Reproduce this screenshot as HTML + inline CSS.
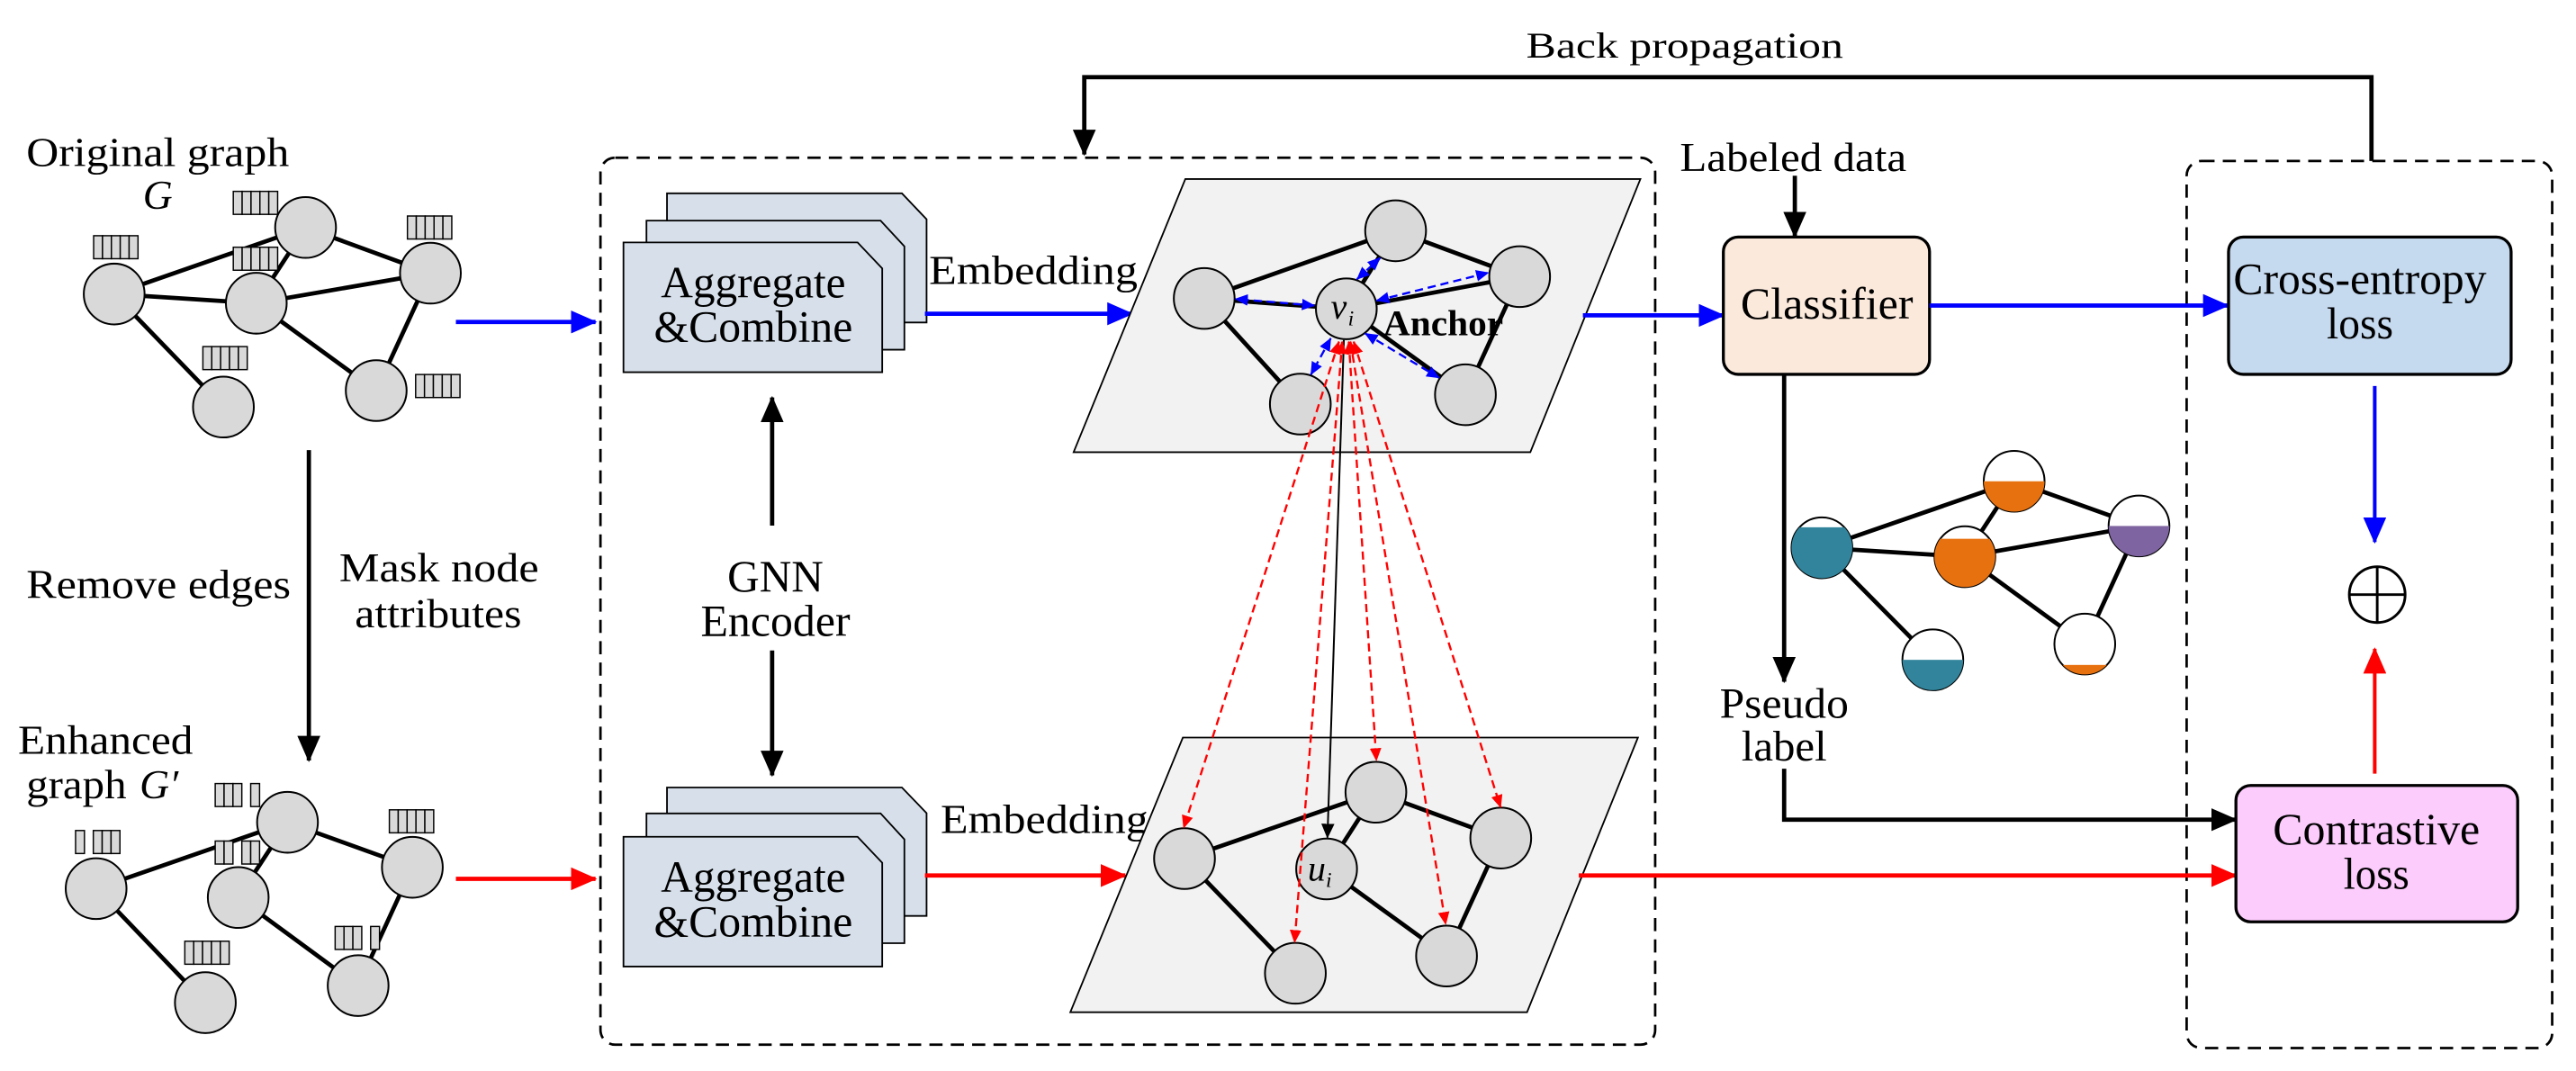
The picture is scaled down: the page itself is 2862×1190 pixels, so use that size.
<!DOCTYPE html>
<html><head><meta charset="utf-8"><style>html,body{margin:0;padding:0;background:#fff}svg{display:block}text{font-family:"Liberation Serif","DejaVu Serif",serif;fill:#000}</style></head>
<body>
<svg width="2862" height="1190" viewBox="0 0 1568 652" preserveAspectRatio="none" xmlns="http://www.w3.org/2000/svg" font-family="Liberation Serif, DejaVu Serif, serif">
<defs>
<rect id="c" width="5.4" height="14" fill="#d9d9d9" stroke="#000" stroke-width="0.8"/>
<g id="fb"><use href="#c" x="0"/><use href="#c" x="5.4"/><use href="#c" x="10.8"/><use href="#c" x="16.2"/><use href="#c" x="21.6"/></g>
<marker id="ab" markerUnits="userSpaceOnUse" markerWidth="16" markerHeight="14" refX="15" refY="7" orient="auto"><path d="M0,0 L16,7 L0,14 z" fill="#0000ff"/></marker>
<marker id="ar" markerUnits="userSpaceOnUse" markerWidth="16" markerHeight="14" refX="15" refY="7" orient="auto"><path d="M0,0 L16,7 L0,14 z" fill="#ff0000"/></marker>
<marker id="ak" markerUnits="userSpaceOnUse" markerWidth="16" markerHeight="14" refX="15" refY="7" orient="auto"><path d="M0,0 L16,7 L0,14 z" fill="#000"/></marker>
<marker id="sb" markerUnits="userSpaceOnUse" markerWidth="8" markerHeight="7" refX="7.5" refY="3.5" orient="auto"><path d="M0,0 L8,3.5 L0,7 z" fill="#0000ff"/></marker>
<marker id="sbs" markerUnits="userSpaceOnUse" markerWidth="8" markerHeight="7" refX="0.5" refY="3.5" orient="auto"><path d="M8,0 L0,3.5 L8,7 z" fill="#0000ff"/></marker>
<marker id="sr" markerUnits="userSpaceOnUse" markerWidth="8" markerHeight="7" refX="7.5" refY="3.5" orient="auto"><path d="M0,0 L8,3.5 L0,7 z" fill="#ff0000"/></marker>
<marker id="srs" markerUnits="userSpaceOnUse" markerWidth="8" markerHeight="7" refX="0.5" refY="3.5" orient="auto"><path d="M8,0 L0,3.5 L8,7 z" fill="#ff0000"/></marker>
<marker id="sk" markerUnits="userSpaceOnUse" markerWidth="9" markerHeight="8" refX="8.5" refY="4" orient="auto"><path d="M0,0 L9,4 L0,8 z" fill="#000"/></marker>
</defs>

<!-- Back propagation -->
<text x="929" y="35" font-size="22" textLength="193" lengthAdjust="spacingAndGlyphs">Back propagation</text>
<polyline points="1443.5,98 1443.5,47 660,47 660,94" fill="none" stroke="#000" stroke-width="2.6" marker-end="url(#ak)"/>

<!-- dashed boxes -->
<rect x="365.5" y="96" width="642" height="540" rx="9" fill="none" stroke="#000" stroke-width="1.5" stroke-dasharray="8,5"/>
<rect x="1331" y="98" width="222.5" height="540" rx="9" fill="none" stroke="#000" stroke-width="1.5" stroke-dasharray="8,5"/>

<!-- Left original graph -->
<text x="16" y="101" font-size="25" textLength="160" lengthAdjust="spacingAndGlyphs">Original graph</text>
<text x="87" y="127" font-size="25" font-style="italic">G</text>
<g stroke="#000" stroke-width="2.6">
<line x1="69.5" y1="179" x2="186" y2="138.5"/><line x1="69.5" y1="179" x2="156" y2="184.6"/>
<line x1="186" y1="138.5" x2="156" y2="184.6"/><line x1="186" y1="138.5" x2="262" y2="166.3"/>
<line x1="156" y1="184.6" x2="262" y2="166.3"/><line x1="69.5" y1="179" x2="136" y2="247.8"/>
<line x1="156" y1="184.6" x2="229" y2="237.8"/><line x1="262" y1="166.3" x2="229" y2="237.8"/>
</g>
<g fill="#d9d9d9" stroke="#000" stroke-width="1.1">
<circle cx="69.5" cy="179" r="18.5"/><circle cx="186" cy="138.5" r="18.5"/><circle cx="156" cy="184.6" r="18.5"/>
<circle cx="262" cy="166.3" r="18.5"/><circle cx="136" cy="247.8" r="18.5"/><circle cx="229" cy="237.8" r="18.5"/>
</g>
<use href="#fb" x="57" y="143.5"/><use href="#fb" x="142" y="116.5"/><use href="#fb" x="142" y="150.5"/>
<use href="#fb" x="248" y="131.5"/><use href="#fb" x="123.5" y="211"/><use href="#fb" x="253" y="228"/>
<line x1="277.5" y1="196" x2="362.5" y2="196" stroke="#0000ff" stroke-width="2.6" marker-end="url(#ab)"/>

<!-- down arrow & labels -->
<line x1="188" y1="274" x2="188" y2="463" stroke="#000" stroke-width="2.6" marker-end="url(#ak)"/>
<text x="16" y="364" font-size="25" textLength="161" lengthAdjust="spacingAndGlyphs">Remove edges</text>
<text x="206.5" y="354" font-size="25" textLength="121.5" lengthAdjust="spacingAndGlyphs">Mask node</text>
<text x="216" y="382" font-size="25" textLength="101.5" lengthAdjust="spacingAndGlyphs">attributes</text>

<!-- Enhanced graph -->
<text x="11" y="459" font-size="25" textLength="106.5" lengthAdjust="spacingAndGlyphs">Enhanced</text>
<text x="16" y="486" font-size="25" textLength="61" lengthAdjust="spacingAndGlyphs">graph</text>
<text x="85" y="486" font-size="25" font-style="italic">G′</text>
<g stroke="#000" stroke-width="2.6">
<line x1="58.5" y1="541" x2="175" y2="500.6"/><line x1="58.5" y1="541" x2="125" y2="610.4"/>
<line x1="175" y1="500.6" x2="145" y2="546.4"/><line x1="175" y1="500.6" x2="251" y2="528"/>
<line x1="145" y1="546.4" x2="218" y2="600"/><line x1="251" y1="528" x2="218" y2="600"/>
</g>
<g fill="#d9d9d9" stroke="#000" stroke-width="1.1">
<circle cx="58.5" cy="541" r="18.5"/><circle cx="175" cy="500.6" r="18.5"/><circle cx="145" cy="546.4" r="18.5"/>
<circle cx="251" cy="528" r="18.5"/><circle cx="125" cy="610.4" r="18.5"/><circle cx="218" cy="600" r="18.5"/>
</g>
<g transform="translate(46,505.6)"><use href="#c" x="0"/><use href="#c" x="10.8"/><use href="#c" x="16.2"/><use href="#c" x="21.6"/></g>
<g transform="translate(131,477)"><use href="#c" x="0"/><use href="#c" x="5.4"/><use href="#c" x="10.8"/><use href="#c" x="21.6"/></g>
<g transform="translate(131,512)"><use href="#c" x="0"/><use href="#c" x="5.4"/><use href="#c" x="16.2"/><use href="#c" x="21.6"/></g>
<use href="#fb" x="237" y="493"/><use href="#fb" x="112.5" y="573"/>
<g transform="translate(204,564)"><use href="#c" x="0"/><use href="#c" x="5.4"/><use href="#c" x="10.8"/><use href="#c" x="21.6"/></g>
<line x1="277.5" y1="535" x2="362.5" y2="535" stroke="#ff0000" stroke-width="2.6" marker-end="url(#ar)"/>

<!-- Aggregate boxes -->
<g fill="#d6dfea" stroke="#000" stroke-width="1">
<path d="M406,117.7 H549 L564,133.5 V196.3 H406 Z"/>
<path d="M393.5,134.3 H536 L550.5,150 V212.9 H393.5 Z"/>
<path d="M379.5,147.6 H522 L537,163.4 V226.6 H379.5 Z"/>
<path d="M406,479.4 H549 L564,495 V557.6 H406 Z"/>
<path d="M393.5,495.2 H536 L550.5,511 V574.2 H393.5 Z"/>
<path d="M379.5,509.4 H522 L537,525.2 V588.4 H379.5 Z"/>
</g>
<g font-size="27" text-anchor="middle" lengthAdjust="spacingAndGlyphs">
<text x="458.5" y="181" textLength="112.5" lengthAdjust="spacingAndGlyphs">Aggregate</text><text x="458.5" y="208" textLength="121" lengthAdjust="spacingAndGlyphs">&amp;Combine</text>
<text x="458.5" y="543" textLength="112.5" lengthAdjust="spacingAndGlyphs">Aggregate</text><text x="458.5" y="570" textLength="121" lengthAdjust="spacingAndGlyphs">&amp;Combine</text>
<text x="472" y="360" textLength="58.5" lengthAdjust="spacingAndGlyphs">GNN</text><text x="472" y="387" textLength="91" lengthAdjust="spacingAndGlyphs">Encoder</text>
</g>
<line x1="470" y1="320" x2="470" y2="242" stroke="#000" stroke-width="2.6" marker-end="url(#ak)"/>
<line x1="470" y1="396" x2="470" y2="472" stroke="#000" stroke-width="2.6" marker-end="url(#ak)"/>

<text x="565.5" y="173" font-size="25" textLength="127" lengthAdjust="spacingAndGlyphs">Embedding</text>
<line x1="563" y1="191" x2="689" y2="191" stroke="#0000ff" stroke-width="2.6" marker-end="url(#ab)"/>
<text x="572.5" y="507" font-size="25" textLength="126.5" lengthAdjust="spacingAndGlyphs">Embedding</text>
<line x1="563" y1="533" x2="685" y2="533" stroke="#ff0000" stroke-width="2.6" marker-end="url(#ar)"/>

<!-- parallelograms -->
<polygon points="721.5,109 998.5,109 931.5,275.3 653.5,275.3" fill="#f2f2f2" stroke="#000" stroke-width="1"/>
<polygon points="720,449 997,449 929.5,616.2 651.5,616.2" fill="#f2f2f2" stroke="#000" stroke-width="1"/>

<!-- top graph -->
<g stroke="#000" stroke-width="2.6">
<line x1="733" y1="181.7" x2="849.5" y2="140.5"/><line x1="733" y1="181.7" x2="819.5" y2="188"/>
<line x1="849.5" y1="140.5" x2="819.5" y2="188"/><line x1="849.5" y1="140.5" x2="925" y2="168.4"/>
<line x1="819.5" y1="188" x2="925" y2="168.4"/><line x1="733" y1="181.7" x2="791.5" y2="246"/>
<line x1="819.5" y1="188" x2="892" y2="240.3"/><line x1="925" y1="168.4" x2="892" y2="240.3"/>
</g>
<g fill="#d9d9d9" stroke="#000" stroke-width="1.1">
<circle cx="733" cy="181.7" r="18.5"/><circle cx="849.5" cy="140.5" r="18.5"/><circle cx="925" cy="168.4" r="18.5"/>
<circle cx="819.5" cy="188" r="18.5"/><circle cx="791.5" cy="246" r="18.5"/><circle cx="892" cy="240.3" r="18.5"/>
</g>
<text x="810" y="194" font-size="22" font-style="italic">v</text><text x="820.5" y="198" font-size="13" font-style="italic">i</text>
<text x="842" y="204" font-size="22" font-weight="bold" textLength="73" lengthAdjust="spacingAndGlyphs">Anchor</text>
<g stroke="#0000ff" stroke-width="1.3" stroke-dasharray="5,3" fill="none">
<line x1="800" y1="186" x2="752" y2="182" marker-end="url(#sb)" marker-start="url(#sbs)"/>
<line x1="826" y1="170" x2="840" y2="157" marker-end="url(#sb)" marker-start="url(#sbs)"/>
<line x1="838" y1="183" x2="906" y2="166" marker-end="url(#sb)" marker-start="url(#sbs)"/>
<line x1="810" y1="206" x2="798" y2="228" marker-end="url(#sb)" marker-start="url(#sbs)"/>
<line x1="831" y1="203" x2="876" y2="230" marker-end="url(#sb)" marker-start="url(#sbs)"/>
</g>

<!-- bottom graph -->
<g stroke="#000" stroke-width="2.6">
<line x1="721" y1="522.7" x2="837.5" y2="482.3"/><line x1="721" y1="522.7" x2="788.5" y2="592.5"/>
<line x1="837.5" y1="482.3" x2="807.5" y2="529"/><line x1="837.5" y1="482.3" x2="913.5" y2="510.2"/>
<line x1="807.5" y1="529" x2="880.5" y2="582"/><line x1="913.5" y1="510.2" x2="880.5" y2="582"/>
</g>
<g fill="#d9d9d9" stroke="#000" stroke-width="1.1">
<circle cx="721" cy="522.7" r="18.5"/><circle cx="837.5" cy="482.3" r="18.5"/><circle cx="913.5" cy="510.2" r="18.5"/>
<circle cx="807.5" cy="529" r="18.5"/><circle cx="788.5" cy="592.5" r="18.5"/><circle cx="880.5" cy="582" r="18.5"/>
</g>
<text x="796" y="536" font-size="22" font-style="italic">u</text><text x="807" y="540" font-size="13" font-style="italic">i</text>

<!-- vi to ui arrows -->
<line x1="818" y1="207" x2="808" y2="510" stroke="#000" stroke-width="1.1" marker-end="url(#sk)"/>
<g stroke="#ff0000" stroke-width="1.3" stroke-dasharray="5,3" fill="none">
<line x1="815" y1="208" x2="720.5" y2="504" marker-end="url(#sr)" marker-start="url(#srs)"/>
<line x1="821" y1="208" x2="837.8" y2="463" marker-end="url(#sr)" marker-start="url(#srs)"/>
<line x1="824" y1="208" x2="913.4" y2="491.5" marker-end="url(#sr)" marker-start="url(#srs)"/>
<line x1="817" y1="208" x2="788" y2="573.7" marker-end="url(#sr)" marker-start="url(#srs)"/>
<line x1="822" y1="208" x2="880" y2="562.7" marker-end="url(#sr)" marker-start="url(#srs)"/>
</g>

<!-- classifier column -->
<text x="1022.5" y="104" font-size="25" textLength="138" lengthAdjust="spacingAndGlyphs">Labeled data</text>
<line x1="1092.5" y1="107" x2="1092.5" y2="144" stroke="#000" stroke-width="2.6" marker-end="url(#ak)"/>
<line x1="963.5" y1="192" x2="1049" y2="192" stroke="#0000ff" stroke-width="2.6" marker-end="url(#ab)"/>
<rect x="1049" y="144.3" width="125.5" height="83.6" rx="9" fill="#fbe9dc" stroke="#000" stroke-width="1.8"/>
<text x="1112" y="194" font-size="27" text-anchor="middle" textLength="105" lengthAdjust="spacingAndGlyphs">Classifier</text>
<line x1="1174.5" y1="186" x2="1356" y2="186" stroke="#0000ff" stroke-width="2.6" marker-end="url(#ab)"/>
<line x1="1086" y1="228" x2="1086" y2="415" stroke="#000" stroke-width="2.6" marker-end="url(#ak)"/>
<text x="1086" y="437" font-size="26" text-anchor="middle" textLength="78.5" lengthAdjust="spacingAndGlyphs">Pseudo</text>
<text x="1086" y="463" font-size="26" text-anchor="middle" textLength="52" lengthAdjust="spacingAndGlyphs">label</text>
<polyline points="1086,468 1086,499 1361,499" fill="none" stroke="#000" stroke-width="2.6" marker-end="url(#ak)"/>
<line x1="961" y1="533" x2="1361" y2="533" stroke="#ff0000" stroke-width="2.6" marker-end="url(#ar)"/>

<!-- colored graph -->
<defs>
<clipPath id="k1"><circle cx="1226" cy="293" r="18.5"/></clipPath>
<clipPath id="k2"><circle cx="1109" cy="333.5" r="18.5"/></clipPath>
<clipPath id="k3"><circle cx="1196" cy="338.9" r="18.5"/></clipPath>
<clipPath id="k4"><circle cx="1302" cy="320.2" r="18.5"/></clipPath>
<clipPath id="k5"><circle cx="1176.5" cy="401.7" r="18.5"/></clipPath>
<clipPath id="k6"><circle cx="1269" cy="392.1" r="18.5"/></clipPath>
</defs>
<g stroke="#000" stroke-width="2.6">
<line x1="1109" y1="333.5" x2="1226" y2="293"/><line x1="1109" y1="333.5" x2="1196" y2="338.9"/>
<line x1="1226" y1="293" x2="1196" y2="338.9"/><line x1="1226" y1="293" x2="1302" y2="320.2"/>
<line x1="1196" y1="338.9" x2="1302" y2="320.2"/><line x1="1109" y1="333.5" x2="1176.5" y2="401.7"/>
<line x1="1196" y1="338.9" x2="1269" y2="392.1"/><line x1="1302" y1="320.2" x2="1269" y2="392.1"/>
</g>
<g fill="#fff" stroke="#000" stroke-width="1.1">
<circle cx="1226" cy="293" r="18.5"/><circle cx="1109" cy="333.5" r="18.5"/><circle cx="1196" cy="338.9" r="18.5"/>
<circle cx="1302" cy="320.2" r="18.5"/><circle cx="1176.5" cy="401.7" r="18.5"/><circle cx="1269" cy="392.1" r="18.5"/>
</g>
<rect clip-path="url(#k1)" x="1200" y="293" width="60" height="30" fill="#e8710f"/>
<rect clip-path="url(#k2)" x="1080" y="321" width="60" height="40" fill="#31849b"/>
<rect clip-path="url(#k3)" x="1170" y="328" width="60" height="40" fill="#e8710f"/>
<rect clip-path="url(#k4)" x="1280" y="320.2" width="60" height="30" fill="#7e64a0"/>
<rect clip-path="url(#k5)" x="1150" y="401.7" width="60" height="30" fill="#31849b"/>
<rect clip-path="url(#k6)" x="1240" y="404.8" width="60" height="10" fill="#e8710f"/>

<!-- loss boxes -->
<rect x="1356.5" y="144.3" width="172" height="83.6" rx="9" fill="#c5d9ef" stroke="#000" stroke-width="1.8"/>
<text x="1436.5" y="179" font-size="27" text-anchor="middle" textLength="154" lengthAdjust="spacingAndGlyphs">Cross-entropy</text>
<text x="1436.5" y="206" font-size="27" text-anchor="middle" textLength="40.5" lengthAdjust="spacingAndGlyphs">loss</text>
<line x1="1445.5" y1="235" x2="1445.5" y2="330" stroke="#0000ff" stroke-width="2.2" marker-end="url(#ab)"/>
<circle cx="1447" cy="362" r="17" fill="none" stroke="#000" stroke-width="1.6"/>
<line x1="1430" y1="362" x2="1464" y2="362" stroke="#000" stroke-width="1.6"/>
<line x1="1447" y1="345" x2="1447" y2="379" stroke="#000" stroke-width="1.6"/>
<line x1="1445.5" y1="471" x2="1445.5" y2="395" stroke="#ff0000" stroke-width="2.2" marker-end="url(#ar)"/>
<rect x="1361" y="478.2" width="171.5" height="83" rx="9" fill="#fcccfc" stroke="#000" stroke-width="1.8"/>
<text x="1446.5" y="514" font-size="27" text-anchor="middle" textLength="126" lengthAdjust="spacingAndGlyphs">Contrastive</text>
<text x="1446.5" y="541" font-size="27" text-anchor="middle" textLength="40" lengthAdjust="spacingAndGlyphs">loss</text>
</svg>
</body></html>
